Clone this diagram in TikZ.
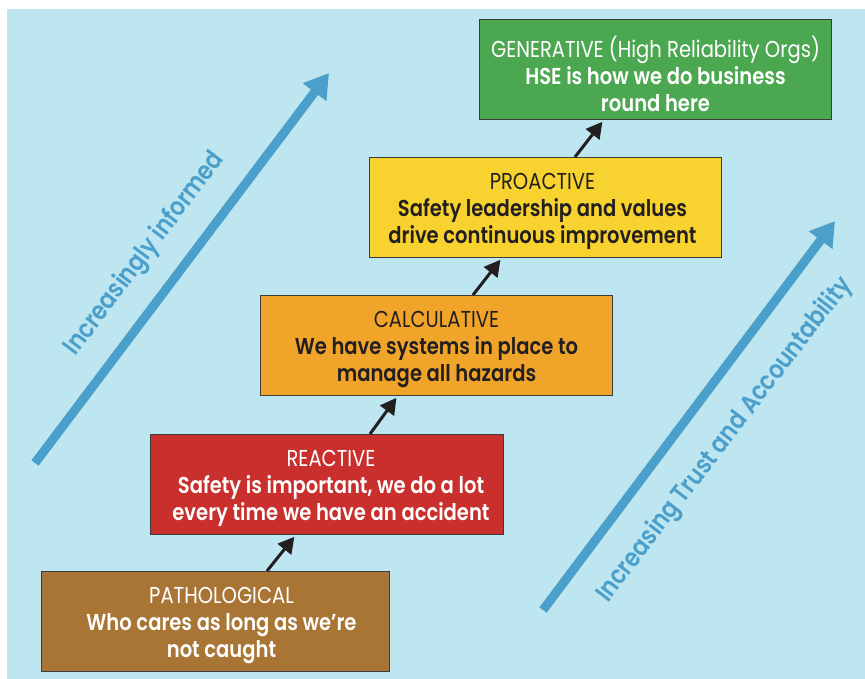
\documentclass[tikz,border=0pt]{standalone}
\usepackage{fontspec}
\setmainfont{Poppins}[BoldFont={Poppins SemiBold}, FakeStretch=0.85]
\usetikzlibrary{arrows.meta,calc}
\definecolor{bgblue}{HTML}{BEE6F0}
\definecolor{arrblue}{HTML}{4BA0CB}
\definecolor{cgreen}{HTML}{4CA751}
\definecolor{cyellow}{HTML}{F8D22F}
\definecolor{corange}{HTML}{F0A52A}
\definecolor{cred}{HTML}{C92F2C}
\definecolor{cbrown}{HTML}{A87535}
\definecolor{ink}{HTML}{231F20}
\definecolor{edge}{HTML}{3C3C3C}
\tikzset{
  stage/.style={draw=edge, line width=1pt, minimum width=#1, minimum height=100pt, inner sep=0pt, anchor=north west},
  stagetext/.style={inner sep=0pt, align=center, font=\fontsize{23}{27}\selectfont},
  stepline/.style={draw=ink, line width=3pt, -{Triangle[length=16pt,width=17pt]}, shorten >=1pt},
  bigarrow/.style={draw=arrblue, line width=9pt, -{Triangle[length=24pt,width=28pt]}},
  sidetext/.style={text=arrblue, font=\fontsize{26}{30}\selectfont\bfseries}
}
\newcommand{\ds}[1]{{\bfseries #1}}
\begin{document}
\begin{tikzpicture}[x=1pt,y=-1pt]
\useasboundingbox (0,0) rectangle (865,679);
\fill[white] (0,0) rectangle (865,679);
\fill[bgblue] (7,9) rectangle (865,679);

% big blue arrows
\coordinate (la0) at (35,463);
\coordinate (la1) at (329,73);
\draw[bigarrow] (la0) -- (la1);
\coordinate (ra0) at (543,610);
\coordinate (ra1) at (835,221);
\draw[bigarrow] (ra0) -- (ra1);
\node[sidetext, rotate=53] (lt) at (145,254) {Increasingly informed};
\node[sidetext, rotate=52.5] (rt) at (725,440) {Increasing Trust and Accountability};

% stages
\node[stage=348pt, fill=cbrown] (pat) at (41,571) {};
\node[stagetext, text=white] (patt) at ($(pat.center)+(6,4)$)
  {PATHOLOGICAL\\ \ds{Who cares as long as we\char"0027re}\\ \ds{not caught}};
\node[stage=353pt, fill=cred] (rea) at (150,434) {};
\node[stagetext, text=white] (reat) at ($(rea.center)+(4,4)$)
  {REACTIVE\\ \ds{Safety is important, we do a lot}\\ \ds{every time we have an accident}};
\node[stage=352pt, fill=corange] (cal) at (260,295) {};
\node[stagetext, text=ink] (calt) at ($(cal.center)+(0,4)$)
  {CALCULATIVE\\ \ds{We have systems in place to}\\ \ds{manage all hazards}};
\node[stage=352pt, fill=cyellow] (pro) at (369,157) {};
\node[stagetext, text=ink] (prot) at ($(pro.center)+(-3,4)$)
  {PROACTIVE\\ \ds{Safety leadership and values}\\ \ds{drive continuous improvement}};
\node[stage=352pt, fill=cgreen] (gen) at (479,19) {};
\node[stagetext, text=white] (gent) at ($(gen.center)+(0,4)$)
  {GENERATIVE (High Reliability Orgs)\\ \ds{HSE is how we do business}\\ \ds{round here}};

% step arrows
\draw[stepline] ($(pat.north west)+(226,0)$) -- ($(rea.south west)+(145,1)$);
\draw[stepline] ($(rea.north west)+(220,0)$) -- ($(cal.south west)+(137,1)$);
\draw[stepline] ($(cal.north west)+(213,0)$) -- ($(pro.south west)+(132,1)$);
\draw[stepline] ($(pro.north west)+(206,0)$) -- ($(gen.south west)+(124,1)$);
\end{tikzpicture}
\end{document}
